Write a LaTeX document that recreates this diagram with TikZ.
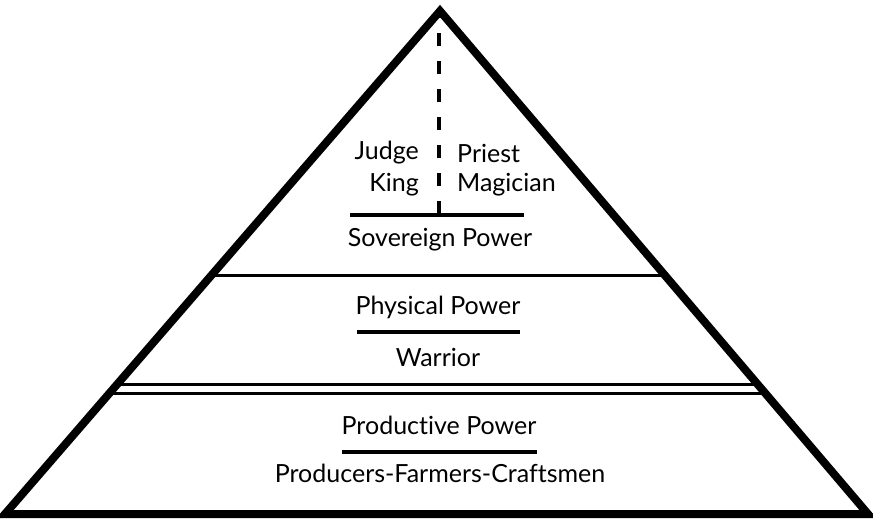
\documentclass[tikz,border=0pt]{standalone}
\usepackage{fontspec}
\setmainfont{Lato}[Ligatures={NoCommon,NoDiscretionary,NoRare}]
\usetikzlibrary{calc}
\begin{document}
\begin{tikzpicture}[x=1pt,y=-1pt,
  label/.style={inner sep=0pt,font=\fontsize{25}{28}\selectfont},
  rule/.style={line width=3.5pt},
  divider/.style={line width=3pt},
  outline/.style={line width=8pt,line join=miter}]
  \useasboundingbox (0,0) rectangle (873,520);

  % corners of the pyramid
  \coordinate (A) at (440,11);
  \coordinate (L) at (5,514);
  \coordinate (R) at (868,514);

  % tier dividers, following the slanted sides
  \coordinate (d1l) at ($(A)!0.5268!(L)$);
  \coordinate (d1r) at ($(A)!0.5268!(R)$);
  \coordinate (d2l) at ($(A)!0.7435!(L)$);
  \coordinate (d2r) at ($(A)!0.7435!(R)$);
  \coordinate (d3l) at ($(A)!0.7614!(L)$);
  \coordinate (d3r) at ($(A)!0.7614!(R)$);
  \draw[divider] (d1l) -- (d1r);
  \draw[divider] (d2l) -- (d2r);
  \draw[divider] (d3l) -- (d3r);

  % outline
  \draw[outline] (A) -- (L) -- (R) -- cycle;

  % top tier
  \node[label,anchor=east] (judge) at (419,153) {Judge};
  \node[label,anchor=east] (king) at (419,185) {King};
  \node[label,anchor=west] (priest) at (457,153) {Priest};
  \node[label,anchor=west] (magician) at (457,185) {Magician};
  \coordinate (s1) at (350,215);
  \coordinate (s2) at (524,215);
  \coordinate (dtop) at (439,214);
  \coordinate (dapex) at (439,14);
  \draw[line width=3.5pt,dash pattern=on 13pt off 15pt] (dtop) -- (dapex);
  \draw[rule] (s1) -- (s2);
  \node[label] (sovereign) at (440,240) {Sovereign Power};

  % middle tier
  \node[label] (physical) at (438,307) {Physical Power};
  \coordinate (p1) at (357,332);
  \coordinate (p2) at (520,332);
  \draw[rule] (p1) -- (p2);
  \node[label] (warrior) at (438,357) {Warrior};

  % bottom tier
  \node[label] (productive) at (439,425) {Productive Power};
  \coordinate (q1) at (342,452);
  \coordinate (q2) at (537,452);
  \draw[rule] (q1) -- (q2);
  \node[label] (producers) at (440,473) {Producers-Farmers-Craftsmen};
\end{tikzpicture}
\end{document}
